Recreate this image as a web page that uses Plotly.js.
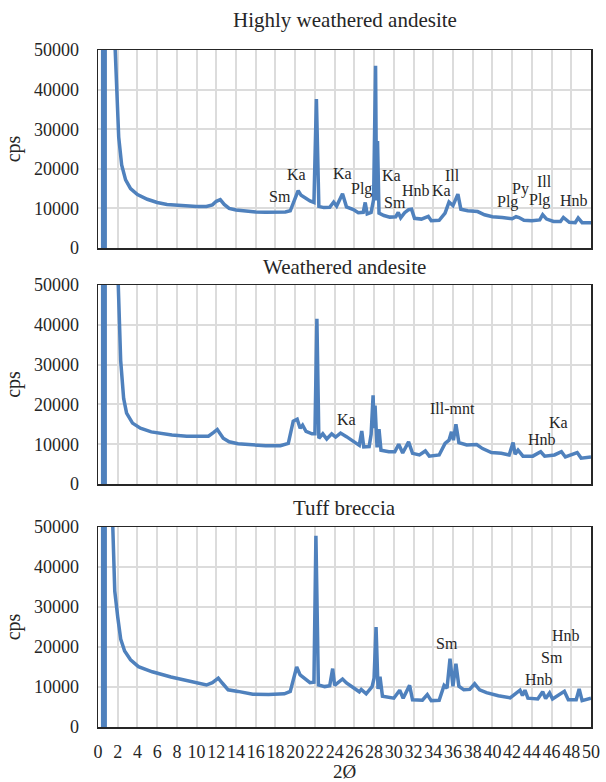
<!DOCTYPE html>
<html>
<head>
<meta charset="utf-8">
<script src="https://cdn.plot.ly/plotly-3.0.1.min.js"></script>
<style>html,body{margin:0;padding:0;background:#fff;}#chart{width:606px;height:782px;}</style>
</head>
<body>
<div id="chart"></div>
<script>
// ---- Data ----
var panelTitles = ["Highly weathered andesite", "Weathered andesite", "Tuff breccia"];
var xTickVals = [0,2,4,6,8,10,12,14,16,18,20,22,24,26,28,30,32,34,36,38,40,42,44,46,48,50];
var yTickVals = [0,10000,20000,30000,40000,50000];

// off-scale signal near 0 (direct beam)
var beamX = [0.6, 0.6];
var beamY = [0, 80000];

// Highly weathered andesite
var hwaX = [1.55,1.75,1.9,2.1,2.4,2.8,3.3,4,5,6,7,8,9,10,11,11.6,12.0,12.4,12.8,13.3,14,15,16,17,18,19,19.5,19.9,20.3,20.6,21.0,21.5,21.9,22.15,22.4,22.9,23.5,23.9,24.2,24.8,25.2,25.9,26.4,26.9,27.1,27.3,27.7,27.95,28.15,28.25,28.35,28.5,29.0,29.6,30.2,30.45,30.7,31.1,31.5,31.8,32.1,32.8,33.5,33.8,34.6,35.2,35.6,36.0,36.5,36.8,37.5,38.5,39.2,40.0,41.0,42.0,42.4,42.7,43.2,44.0,44.8,45.1,45.5,46.2,46.9,47.2,47.8,48.4,48.7,49.1,50];
var hwaY = [62000,50000,38000,28000,21000,17200,15000,13500,12300,11500,11000,10800,10600,10500,10500,10900,11800,12200,11000,10000,9600,9300,9100,9000,9000,9100,9400,11800,14500,13300,12600,11900,11500,37600,10500,10200,10300,11600,10600,13700,10400,9700,8900,9000,11500,8600,9000,12200,46000,12000,27000,8800,8200,7800,7900,9000,7600,8900,9700,9800,7500,7300,8000,6900,7000,8800,11600,10700,13600,9800,9400,9200,8400,7900,7700,7400,7900,7700,7000,6900,7100,8400,7300,6700,6700,7700,6500,6400,7600,6400,6400];

// Weathered andesite
var waX = [1.9,2.05,2.3,2.6,2.9,3.5,4.3,5.4,6.5,7.5,9,10.5,11.2,11.7,12.1,12.7,13.3,14.2,15.5,17,18.5,19.3,19.8,20.2,20.5,20.75,21.1,21.7,22.0,22.2,22.4,22.8,23.2,23.7,24.1,24.6,25.2,25.9,26.5,26.75,26.95,27.5,27.7,27.9,28.0,28.1,28.3,28.5,28.7,29.5,30.1,30.5,30.9,31.5,31.9,32.6,33.2,33.6,34.6,35.2,35.6,35.85,36.05,36.3,36.6,37.4,38.4,39.0,39.9,40.9,41.7,42.1,42.3,42.6,43.1,44.1,44.9,45.3,46.3,47.0,47.4,48.6,49.0,50];
var waY = [62000,50000,31000,21500,17800,15300,14000,13100,12600,12300,12000,11900,12000,12900,13700,11500,10600,10100,9800,9600,9600,10200,15800,16300,14000,14800,13200,12600,12600,41500,11500,12600,11300,12600,11800,12800,11900,10600,9700,13300,9300,9400,12500,22300,14000,19700,9200,13800,8500,8100,8100,10000,7800,10600,7700,7300,8300,7000,7300,10200,11000,13100,11000,15000,10400,9800,9900,8900,7900,7700,7300,10400,7500,8500,7000,7000,8100,7000,7300,8100,6800,7900,6500,6800];

// Tuff breccia
var tbX = [1.35,1.5,1.7,2.0,2.3,2.7,3.3,4.1,5.5,7.4,9.4,11.0,11.6,12.2,12.6,13.2,14.2,15.7,17.3,18.9,19.5,19.9,20.15,20.5,20.9,21.5,21.9,22.1,22.35,23.0,23.5,23.8,24.0,24.8,25.2,26.0,26.5,26.7,27.2,27.8,28.0,28.2,28.4,28.6,28.85,30.0,30.6,30.95,31.6,31.9,32.9,33.4,33.8,34.6,35.1,35.4,35.7,36.0,36.3,36.6,37.1,37.7,38.2,38.7,39.4,40.6,41.8,42.8,43.05,43.3,43.6,44.6,45.1,45.4,45.8,46.1,47.3,47.7,48.5,48.8,49.1,50];
var tbY = [62000,50000,34000,27500,22000,19000,16800,15100,13800,12500,11300,10500,11100,12200,11000,9300,8900,8200,8100,8300,8900,12600,15000,13000,12200,11100,11200,47800,10500,10100,10300,14600,10400,12000,11000,9700,8800,9400,8300,10100,12200,25000,9500,12600,7700,7200,9200,7200,10400,6800,6700,8100,6600,6700,10400,9700,17100,10200,15800,10200,9300,9400,10800,9300,8600,7800,7300,9200,7900,9200,7200,7000,8800,7100,8500,7000,8900,6800,6800,9500,6600,7200];

// Mineral labels
var hwaLabText = ["Sm","Ka","Ka","Plg","Ka","Sm","Hnb","Ka","Ill","Plg","Py","Ill","Plg","Hnb"];
var hwaLabX = [18.5,20.1,24.8,26.7,29.8,30.1,32.3,34.8,36.0,41.5,42.9,45.3,44.8,48.3];
var hwaLabY = [12900,18600,18900,14800,18200,11400,14600,14600,18200,11700,15000,16700,12100,12100];

var waLabText = ["Ka","Ill-mnt","Hnb","Ka"];
var waLabX = [25.2,36.0,45.0,46.7];
var waLabY = [16200,19000,11200,15400];

var tbLabText = ["Sm","Hnb","Sm","Hnb"];
var tbLabX = [35.4,44.7,46.0,47.5];
var tbLabY = [21000,11900,17400,22800];

// ---- Styling ----
var FONT = "'Liberation Serif', 'Times New Roman', serif";
var TXT = "#262626";
var LINE = "#4f81bd";

var panels = [
  {x: hwaX, y: hwaY, lt: hwaLabText, lx: hwaLabX, ly: hwaLabY},
  {x: waX, y: waY, lt: waLabText, lx: waLabX, ly: waLabY},
  {x: tbX, y: tbY, lt: tbLabText, lx: tbLabX, ly: tbLabY}
];

var plotTop = 50, plotBottom = 727;
var plotSpan = plotBottom - plotTop;
var pxBounds = [[50,248],[285,484],[527,727]];
var titleYpx = [20, 267, 508];
function toPaper(p){ return (plotBottom - p) / plotSpan; }

var traces = [];
var layout = {
  width: 606, height: 782,
  margin: {l: 98, r: 15, t: 50, b: 55},
  paper_bgcolor: "#fff", plot_bgcolor: "#fff",
  showlegend: false,
  font: {family: FONT, color: TXT, size: 18},
  annotations: []
};

panels.forEach(function(p, i){
  var n = i === 0 ? "" : String(i + 1);
  traces.push({x: beamX, y: beamY, xaxis: "x" + n, yaxis: "y" + n, mode: "lines",
    line: {color: LINE, width: 6}, hoverinfo: "skip"});
  traces.push({x: p.x, y: p.y, xaxis: "x" + n, yaxis: "y" + n, mode: "lines",
    line: {color: LINE, width: 3.5}});
  layout["xaxis" + n] = {
    domain: [0, 1], anchor: "y" + n, range: [0, 50],
    tickmode: "array", tickvals: xTickVals, ticktext: xTickVals.map(String),
    showticklabels: i === 2, ticks: "", ticklabelstandoff: 8, tickangle: 0,
    showgrid: true, gridcolor: "#dcdcdc", gridwidth: 2,
    showline: true, mirror: true, linecolor: TXT, linewidth: 1.5,
    zeroline: false, tickfont: {family: FONT, size: 18, color: TXT},
    title: i === 2 ? {text: "2Ø", font: {family: FONT, size: 19, color: TXT}, standoff: 2} : {text: ""}
  };
  layout["yaxis" + n] = {
    domain: [toPaper(pxBounds[i][1]), toPaper(pxBounds[i][0])], anchor: "x" + n,
    range: [0, 50000], tickmode: "array", tickvals: yTickVals, ticktext: yTickVals.map(String),
    ticks: "", ticklabelstandoff: 14,
    showgrid: true, gridcolor: "#dcdcdc", gridwidth: 2,
    showline: true, mirror: true, linecolor: TXT, linewidth: 1.5,
    zeroline: false, tickfont: {family: FONT, size: 18, color: TXT},
    title: {text: "cps", font: {family: FONT, size: 20, color: TXT}, standoff: 8}
  };
  layout.annotations.push({
    text: panelTitles[i], xref: "paper", yref: "paper", x: 0.5, y: toPaper(titleYpx[i]),
    xanchor: "center", yanchor: "middle", showarrow: false,
    font: {family: FONT, size: 21, color: TXT}
  });
  p.lt.forEach(function(t, k){
    layout.annotations.push({
      text: t, xref: "x" + n, yref: "y" + n, x: p.lx[k], y: p.ly[k],
      xanchor: "center", yanchor: "middle", showarrow: false,
      font: {family: FONT, size: 16, color: TXT}
    });
  });
});

Plotly.newPlot("chart", traces, layout, {staticPlot: true, displayModeBar: false});
</script>
</body>
</html>
